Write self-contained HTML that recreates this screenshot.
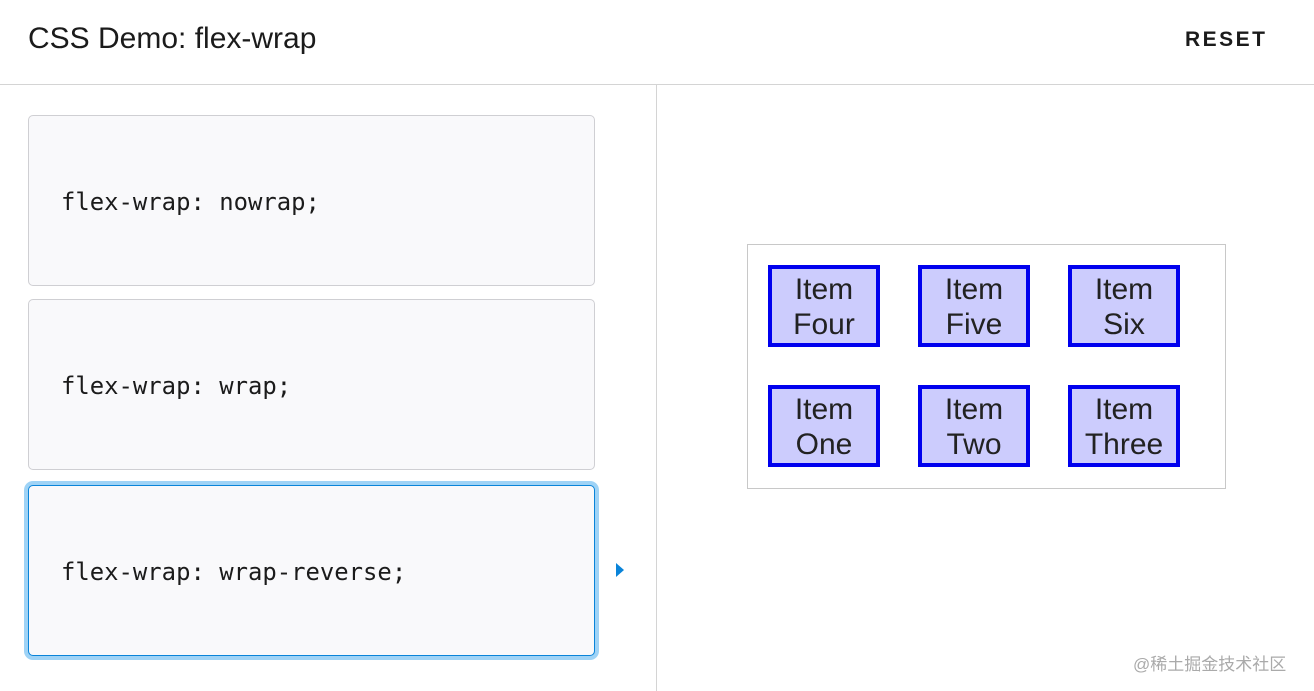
<!DOCTYPE html>
<html><head><meta charset="utf-8"><style>
body{margin:0;width:1314px;height:691px;background:#fff;font-family:"Liberation Sans",sans-serif;position:relative;overflow:hidden}
.hdr{position:absolute;left:0;top:0;width:1314px;height:84px;border-bottom:1px solid #d4d4d4}
.title{position:absolute;left:28px;top:22px;font-size:30px;color:#1b1b1b}
.reset{position:absolute;left:1185px;top:28px;font-size:21px;font-weight:bold;letter-spacing:2.5px;color:#1b1b1b}
.div{position:absolute;left:656px;top:85px;width:1px;height:606px;background:#d4d4d4}
.box{position:absolute;left:28px;width:567px;height:171px;background:#f9f9fb;border:1px solid #cfcfd3;border-radius:5px;box-sizing:border-box}
.box span{position:absolute;left:32px;top:72px;font-family:"DejaVu Sans Mono","Liberation Mono",monospace;font-size:23.9px;color:#1b1b1b}
.sel{border:1px solid #0a84d9;box-shadow:0 0 0 4px #9fd3f6}
.arrow{position:absolute;left:616px;top:563px;width:0;height:0;border-top:7px solid transparent;border-bottom:7px solid transparent;border-left:8px solid #0a84d9}
.cont{position:absolute;left:747px;top:244px;width:479px;height:245px;border:1px solid #c8c8c8;box-sizing:border-box}
.it{position:absolute;width:112px;height:82px;box-sizing:border-box;border:4px solid #0000ee;background:#ccccfd;font-size:30px;line-height:35px;text-align:center;color:#222;padding-top:3px}
.wm{position:absolute;left:1133px;top:650px;font-size:17px;color:#aaa;font-family:"Liberation Sans","Noto Sans CJK SC",sans-serif}
</style></head><body>
<div class="hdr"><div class="title">CSS Demo: flex-wrap</div><div class="reset">RESET</div></div>
<div class="div"></div>
<div class="box" style="top:115px"><span>flex-wrap: nowrap;</span></div>
<div class="box" style="top:299px"><span>flex-wrap: wrap;</span></div>
<div class="box sel" style="top:485px;height:171px"><span>flex-wrap: wrap-reverse;</span></div>
<div class="arrow"></div>
<div class="cont"></div>
<div class="it" style="left:768px;top:265px">Item<br>Four</div>
<div class="it" style="left:918px;top:265px">Item<br>Five</div>
<div class="it" style="left:1068px;top:265px">Item<br>Six</div>
<div class="it" style="left:768px;top:385px">Item<br>One</div>
<div class="it" style="left:918px;top:385px">Item<br>Two</div>
<div class="it" style="left:1068px;top:385px">Item<br>Three</div>
<div class="wm">@稀土掘金技术社区</div>
</body></html>
